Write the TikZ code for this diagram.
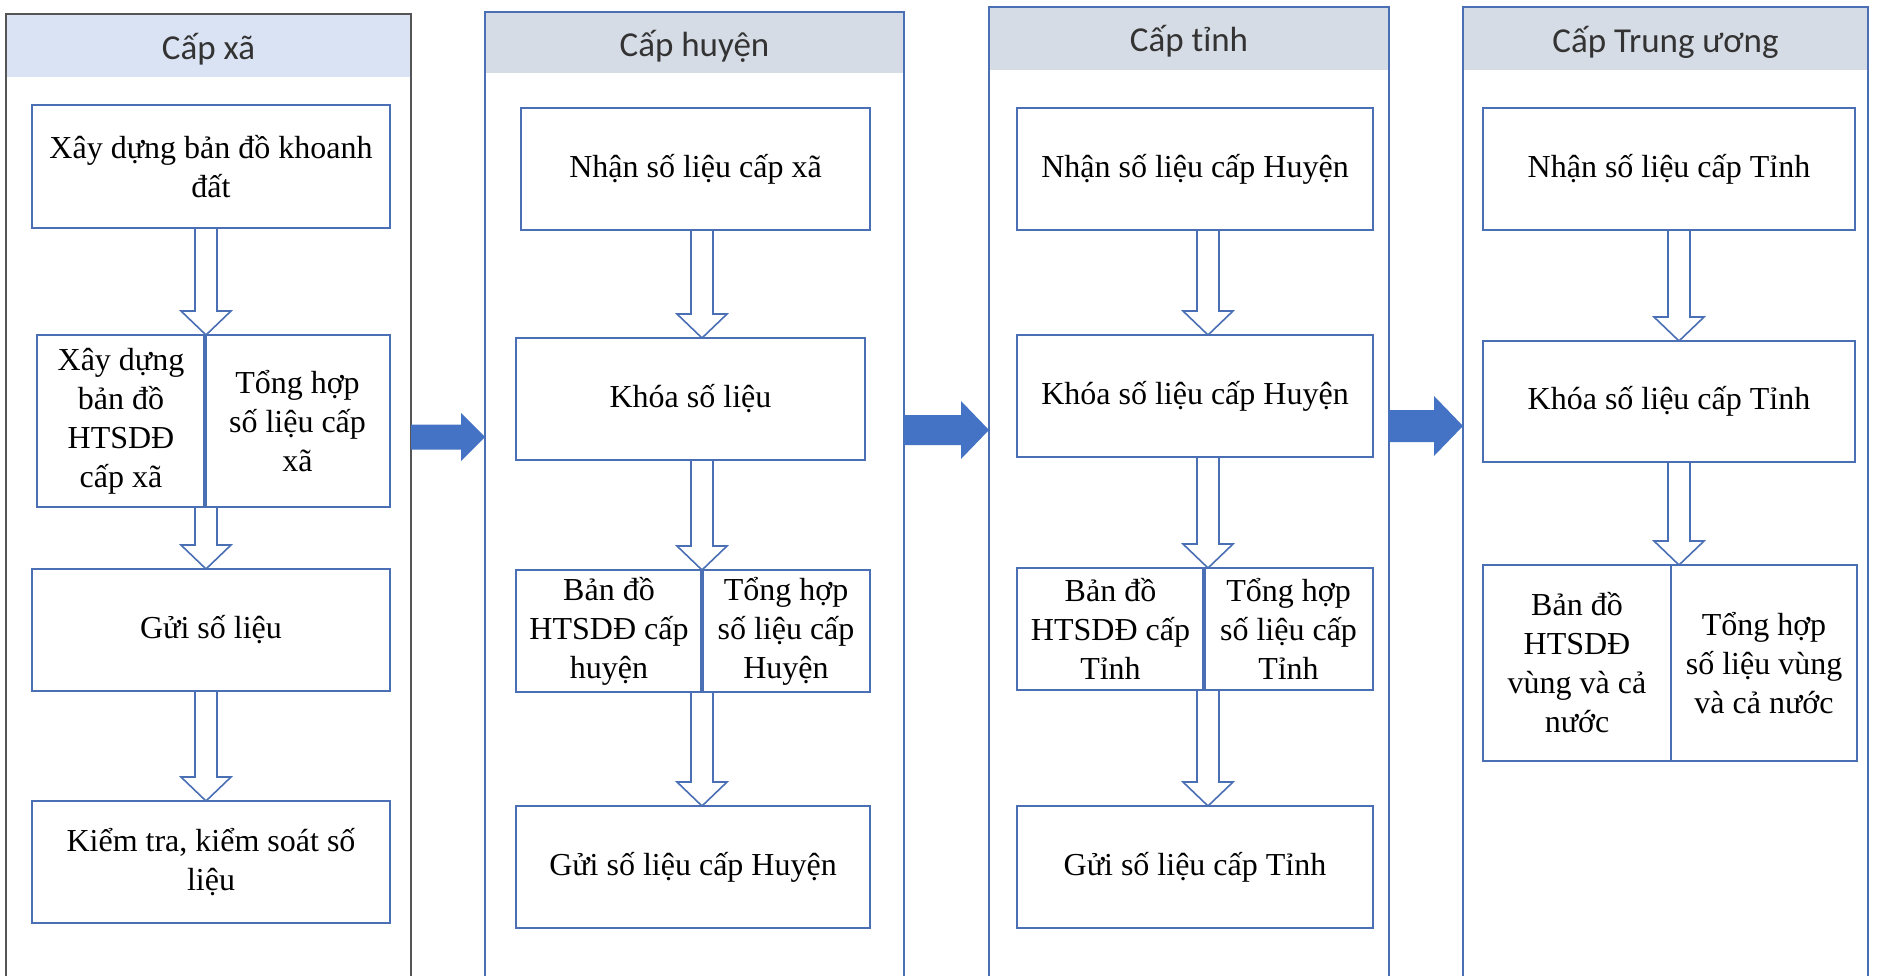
\documentclass[tikz,border=0pt]{standalone}
\usepackage{fontspec}
\setmainfont{Liberation Serif}
\newfontfamily\hdrfont{Carlito}
\usetikzlibrary{calc,fit}
\definecolor{boxblue}{HTML}{4A6FB5}
\definecolor{framegray}{HTML}{555555}
\definecolor{hdrA}{HTML}{DAE3F3}
\definecolor{hdrB}{HTML}{D6DCE5}
\definecolor{arrowblue}{HTML}{4472C4}
\definecolor{hdrtext}{HTML}{333333}
\tikzset{
  colnode/.style={draw=none,fill=none,inner sep=0pt,outer sep=0pt},
  frameblue/.style={draw=boxblue,line width=2pt},
  framegr/.style={draw=framegray,line width=2.2pt},
  hdr/.style={draw=none,inner sep=0pt,outer sep=0pt},
  hdrtitle/.style={inner sep=0pt,font=\hdrfont\fontsize{35}{40}\selectfont,text=hdrtext},
  stepbox/.style={draw=boxblue,line width=1.6pt,fill=white,inner sep=0pt,outer sep=0pt,align=center,font=\fontsize{32}{39}\selectfont},
  divider/.style={draw=boxblue,line width=3.2pt},
  harr/.style={draw=boxblue,line width=1.6pt,line join=miter},
  barr/.style={fill=arrowblue}
}
\newcommand{\harrow}[3]{\draw[harr] let \p1=(#1.south), \p2=(#2.north) in
 ({#3pt-11pt},\y1) -- ({#3pt-11pt},{\y2+24pt}) -- ({#3pt-25pt},{\y2+24pt}) -- (#3pt,\y2) -- ({#3pt+25pt},{\y2+24pt}) -- ({#3pt+11pt},{\y2+24pt}) -- ({#3pt+11pt},\y1);}
\newcommand{\barrow}[6]{\fill[barr] let \p1=(#1.east), \p2=(#2.west) in
 (\x1,{-#3pt+#4pt}) -- ({\x2-#6pt},{-#3pt+#4pt}) -- ({\x2-#6pt},{-#3pt+#5pt}) -- (\x2,{-#3pt}) -- ({\x2-#6pt},{-#3pt-#5pt}) -- ({\x2-#6pt},{-#3pt-#4pt}) -- (\x1,{-#3pt-#4pt}) -- cycle;}
\begin{document}
\begin{tikzpicture}[x=1pt,y=-1pt]
\useasboundingbox (0,0) rectangle (1878,976);
\clip (0,0) rectangle (1878,976);
\fill[white] (0,0) rectangle (1878,976);

% columns
\node[colnode,minimum width=405pt,minimum height=986pt] (col1) at (208.5,507) {};
\node[colnode,minimum width=419pt,minimum height=988pt] (col2) at (694.5,506) {};
\node[colnode,minimum width=400pt,minimum height=993pt] (col3) at (1189,503.5) {};
\node[colnode,minimum width=405pt,minimum height=993pt] (col4) at (1665.5,503.5) {};

\node[hdr,fill=hdrA,minimum width=405pt,minimum height=63pt,anchor=north] (h1) at (col1.north) {};
\node[hdr,fill=hdrB,minimum width=419pt,minimum height=61pt,anchor=north] (h2) at (col2.north) {};
\node[hdr,fill=hdrB,minimum width=400pt,minimum height=63pt,anchor=north] (h3) at (col3.north) {};
\node[hdr,fill=hdrB,minimum width=405pt,minimum height=63pt,anchor=north] (h4) at (col4.north) {};
\node[hdrtitle] (t1) at ($(h1.center)+(0,4)$) {Cấp xã};
\node[hdrtitle] (t2) at ($(h2.center)+(0,4)$) {Cấp huyện};
\node[hdrtitle] (t3) at ($(h3.center)+(0,3)$) {Cấp tỉnh};
\node[hdrtitle] (t4) at ($(h4.center)+(0,4)$) {Cấp Trung ương};

\draw[framegr] (col1.north west) rectangle (col1.south east);
\draw[frameblue] (col2.north west) rectangle (col2.south east);
\draw[frameblue] (col3.north west) rectangle (col3.south east);
\draw[frameblue] (col4.north west) rectangle (col4.south east);

% column 1
\node[stepbox,minimum width=358pt,minimum height=123pt] (a1) at (211,166.5) {Xây dựng bản đồ khoanh\\đất};
\node[stepbox,minimum width=168pt,minimum height=172pt] (a2l) at (121,421) {Xây dựng\\bản đồ\\HTSDĐ\\cấp xã};
\node[stepbox,minimum width=185pt,minimum height=172pt] (a2r) at (297.5,421) {Tổng hợp\\số liệu cấp\\xã};
\node[fit=(a2l)(a2r),inner sep=0pt,outer sep=0pt] (a2) {};
\draw[divider] (a2l.north east) -- (a2l.south east);
\node[stepbox,minimum width=358pt,minimum height=122pt] (a3) at (211,630) {Gửi số liệu};
\node[stepbox,minimum width=358pt,minimum height=122pt] (a4) at (211,862) {Kiểm tra, kiểm soát số\\liệu};

% column 2
\node[stepbox,minimum width=349pt,minimum height=122pt] (b1) at (695.5,169) {Nhận số liệu cấp xã};
\node[stepbox,minimum width=349pt,minimum height=122pt] (b2) at (690.5,399) {Khóa số liệu};
\node[stepbox,minimum width=186pt,minimum height=122pt] (b3l) at (609,631) {Bản đồ\\HTSDĐ cấp\\huyện};
\node[stepbox,minimum width=168pt,minimum height=122pt] (b3r) at (786,631) {Tổng hợp\\số liệu cấp\\Huyện};
\node[fit=(b3l)(b3r),inner sep=0pt,outer sep=0pt] (b3) {};
\draw[divider] (b3l.north east) -- (b3l.south east);
\node[stepbox,minimum width=354pt,minimum height=122pt] (b4) at (693,867) {Gửi số liệu cấp Huyện};

% column 3
\node[stepbox,minimum width=356pt,minimum height=122pt] (c1) at (1195,169) {Nhận số liệu cấp Huyện};
\node[stepbox,minimum width=356pt,minimum height=122pt] (c2) at (1195,396) {Khóa số liệu cấp Huyện};
\node[stepbox,minimum width=187pt,minimum height=122pt] (c3l) at (1110.5,629) {Bản đồ\\HTSDĐ cấp\\Tỉnh};
\node[stepbox,minimum width=169pt,minimum height=122pt] (c3r) at (1288.5,629) {Tổng hợp\\số liệu cấp\\Tỉnh};
\node[fit=(c3l)(c3r),inner sep=0pt,outer sep=0pt] (c3) {};
\draw[divider] (c3l.north east) -- (c3l.south east);
\node[stepbox,minimum width=356pt,minimum height=122pt] (c4) at (1195,867) {Gửi số liệu cấp Tỉnh};

% column 4
\node[stepbox,minimum width=372pt,minimum height=122pt] (d1) at (1669,169) {Nhận số liệu cấp Tỉnh};
\node[stepbox,minimum width=372pt,minimum height=121pt] (d2) at (1669,401.5) {Khóa số liệu cấp Tỉnh};
\node[stepbox,minimum width=188pt,minimum height=196pt] (d3l) at (1577,663) {Bản đồ\\HTSDĐ\\vùng và cả\\nước};
\node[stepbox,minimum width=186pt,minimum height=196pt] (d3r) at (1764,663) {Tổng hợp\\số liệu vùng\\và cả nước};
\node[fit=(d3l)(d3r),inner sep=0pt,outer sep=0pt] (d3) {};

% hollow arrows
\harrow{a1}{a2}{206}
\harrow{a2}{a3}{206}
\harrow{a3}{a4}{206}
\harrow{b1}{b2}{702}
\harrow{b2}{b3}{702}
\harrow{b3}{b4}{702}
\harrow{c1}{c2}{1208}
\harrow{c2}{c3}{1208}
\harrow{c3}{c4}{1208}
\harrow{d1}{d2}{1679}
\harrow{d2}{d3}{1679}

% blue arrows between columns
\barrow{col1}{col2}{437}{12.5}{24}{24}
\barrow{col2}{col3}{430}{15}{29}{28}
\barrow{col3}{col4}{426}{16}{30}{29}
\end{tikzpicture}
\end{document}
